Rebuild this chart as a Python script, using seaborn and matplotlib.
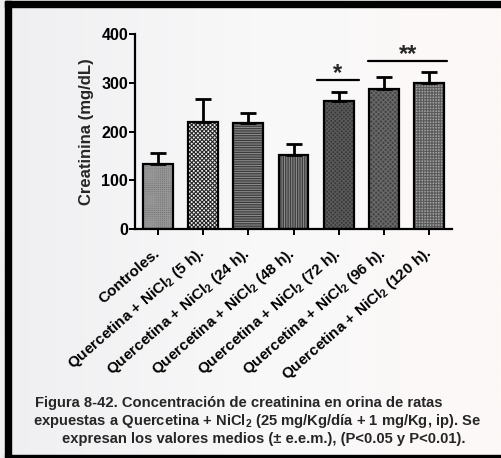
import numpy as np
import pandas as pd
import matplotlib
matplotlib.use("Agg")
import matplotlib.pyplot as plt
from matplotlib.patches import Rectangle
import seaborn as sns

# Datos: creatinina en orina (media y e.e.m.)
grupos = [
    "Controles.",
    "Quercetina + NiCl$_2$ (5 h).",
    "Quercetina + NiCl$_2$ (24 h).",
    "Quercetina + NiCl$_2$ (48 h).",
    "Quercetina + NiCl$_2$ (72 h).",
    "Quercetina + NiCl$_2$ (96 h).",
    "Quercetina + NiCl$_2$ (120 h).",
]
medias = [133, 219, 218, 152, 263, 288, 299]
eem = [24, 49, 20, 22, 18, 24, 23]
y_ticks = [0, 100, 200, 300, 400]

# Relleno de cada barra: color de fondo, trama y color de la trama
fondos = ["#6e6e6e", "#f2f2f2", "#3c3c3c", "#3c3c3c", "#383838", "#454545", "#a0a0a0"]
tramas = ["++++++++", "xxxxxxxx", "-------", "|||||||", "xxxxxxxx", "xxxxxxx", "++++++"]
color_trama = ["#959595", "#262626", "#8a8a8a", "#8a8a8a", "#5a5a5a", "#6a6a6a", "#5a5a5a"]

sns.set_theme(style="white")
plt.rcParams["font.family"] = ["Liberation Sans", "DejaVu Sans"]
plt.rcParams["font.weight"] = "bold"
plt.rcParams["mathtext.fontset"] = "custom"
plt.rcParams["mathtext.rm"] = "Liberation Sans:bold"
plt.rcParams["mathtext.it"] = "Liberation Sans:bold"
plt.rcParams["mathtext.bf"] = "Liberation Sans:bold"
plt.rcParams["hatch.linewidth"] = 0.8

fig = plt.figure(figsize=(5.01, 4.58), dpi=100)

# Fondo suave de la página
bg = fig.add_axes([0, 0, 1, 1], zorder=-10)
grad = np.linspace(0, 1, 256)[None, :]
cmap = matplotlib.colors.LinearSegmentedColormap.from_list("pg", ["#efeff1", "#f8f8f9", "#fdf9f7"])
bg.imshow(grad, aspect="auto", cmap=cmap, extent=[0, 1, 0, 1])
bg.set_axis_off()

ax = fig.add_axes([135 / 501, 1 - 229 / 458, 317 / 501, 194.7 / 458])
ax.patch.set_alpha(0)

df = pd.DataFrame({"grupo": grupos, "valor": medias})

# Capa de relleno con trama
sns.barplot(data=df, x="grupo", y="valor", hue="grupo", palette=fondos,
            legend=False, errorbar=None, width=0.66, ax=ax, linewidth=0,
            saturation=1)
for p, h, c in zip(ax.patches, tramas, color_trama):
    p.set_hatch(h)
    p.set_edgecolor(c)
    p.set_linewidth(0)

# Contorno negro de las barras
sns.barplot(data=df, x="grupo", y="valor", fill=False, color="black",
            errorbar=None, width=0.66, ax=ax, linewidth=1.6)

# Barras de error (solo hacia arriba)
centros = np.arange(len(grupos))
ax.errorbar(centros, medias, yerr=[np.zeros(len(eem)), eem], fmt="none",
            ecolor="black", elinewidth=2.0, capsize=5.5, capthick=2.0, zorder=1)

ax.set_xlim(-0.5, len(grupos) - 0.5)
ax.set_ylim(0, 400)
ax.set_yticks(y_ticks)
ax.set_xlabel("")
ax.set_ylabel("Creatinina (mg/dL)", fontsize=12, fontweight="bold", labelpad=5)
sns.despine(ax=ax)
for s in ["left", "bottom"]:
    ax.spines[s].set_linewidth(1.6)
    ax.spines[s].set_color("black")
ax.tick_params(axis="y", direction="out", length=4, width=1.4, colors="black",
               labelsize=11.5, pad=1, left=True)
ax.tick_params(axis="x", direction="out", length=4, width=1.4, colors="black",
               labelsize=11, pad=12, bottom=True)
ax.set_xticks(centros)
ax.set_xticklabels(grupos, rotation=41, ha="right", rotation_mode="anchor",
                   va="center", fontweight="bold")
for lab in ax.get_yticklabels():
    lab.set_fontweight("bold")

# Significancia
ax.plot([3.52, 4.44], [307, 307], color="black", lw=1.6, clip_on=False)
ax.text(3.98, 320, "*", ha="center", va="center", fontsize=17)
ax.plot([4.65, 6.40], [345, 345], color="black", lw=1.6, clip_on=False)
ax.text(5.52, 358, "**", ha="center", va="center", fontsize=17)

# Marco de la página
for rect in [(5, 1, 496, 6), (5, 1, 6, 456), (5, 455, 496, 2)]:
    x, y, w, h = rect
    fig.patches.append(Rectangle((x / 501, 1 - (y + h) / 458), w / 501, h / 458,
                                 transform=fig.transFigure, color="black", zorder=5))

# Pie de figura
cap_kw = dict(ha="center", va="center", fontsize=10.6, fontweight="bold")
fig.text(239 / 501, 1 - 403 / 458,
         "Figura 8-42. Concentración de creatinina en orina de ratas", **cap_kw)
fig.text(257 / 501, 1 - 421 / 458,
         "expuestas a Quercetina + NiCl$_2$ (25 mg/Kg/día + 1 mg/Kg, ip). Se", **cap_kw)
fig.text(264 / 501, 1 - 439 / 458,
         "expresan los valores medios (± e.e.m.), (P<0.05 y P<0.01).", **cap_kw)

fig.savefig("out.png", dpi=100)
